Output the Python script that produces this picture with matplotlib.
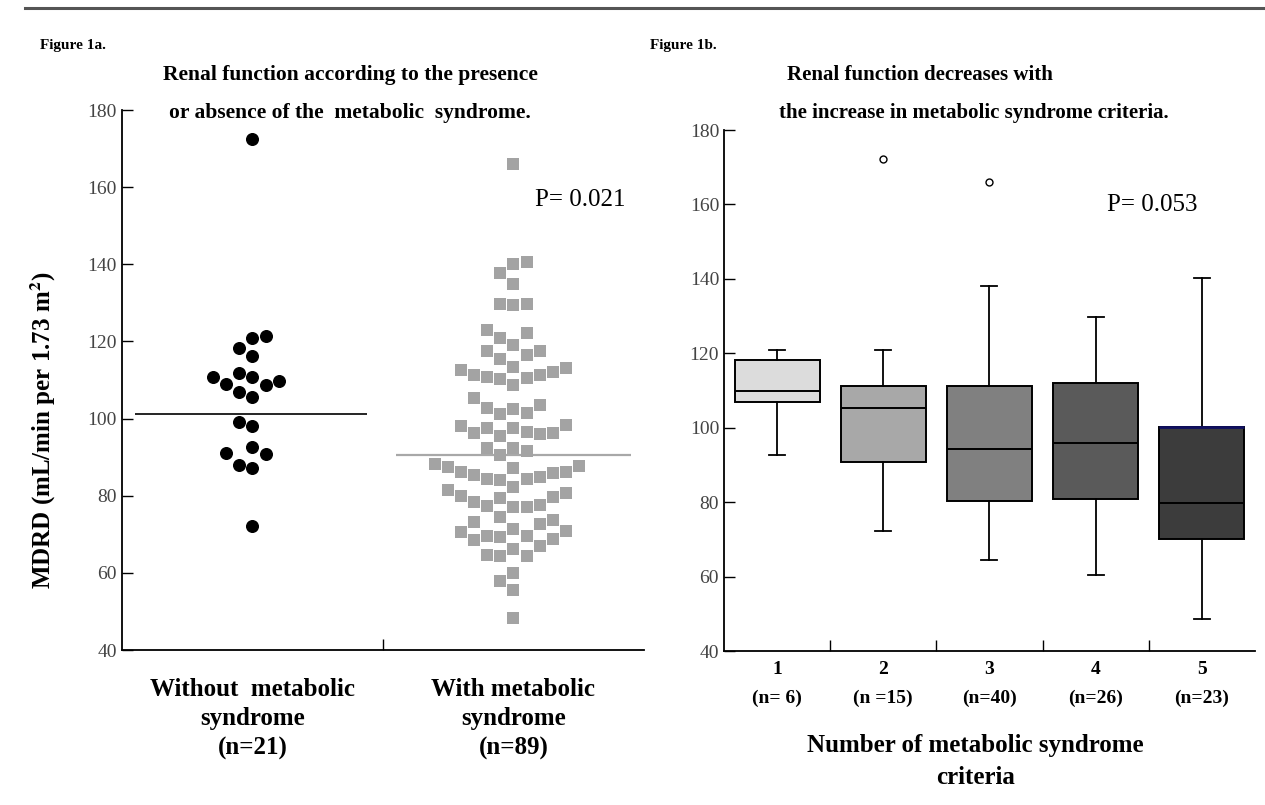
import numpy as np
import matplotlib
matplotlib.use("Agg")
import matplotlib.pyplot as plt
from matplotlib.lines import Line2D

plt.rcParams['font.family'] = ['Liberation Serif', 'DejaVu Serif']
plt.rcParams['mathtext.fontset'] = 'stix'

# Figure 1a data: MDRD values per group
without_ms = [172.5, 121.0, 121.3, 118.2, 116.2, 110.8, 110.8, 111.8, 109.0, 108.8,
              109.7, 106.9, 105.5, 98.1, 99.1, 92.7, 91.0, 90.8, 87.9, 87.3, 72.2]
with_ms = [166.0, 140.6, 140.0, 137.8, 134.8, 129.8, 129.5, 129.6,
           123.0, 122.3, 121.0, 119.0, 117.4, 117.5, 116.5, 115.4, 113.5, 112.6, 113.2,
           111.4, 112.0, 111.2, 110.7, 110.3, 110.6, 108.8,
           105.4, 103.4, 102.5, 102.8, 101.2, 101.5,
           98.4, 98.0, 97.5, 97.5, 96.5, 96.3, 96.0, 96.2, 95.6,
           92.5, 92.5, 91.7, 90.6,
           87.8, 87.2, 86.1, 85.5, 84.3, 84.1, 84.3, 84.9, 85.9, 86.1, 87.5, 88.2,
           82.3, 81.5, 80.6, 79.8, 79.3, 77.0, 80.0, 77.4, 78.4, 77.7, 77.0,
           74.4, 73.7, 72.7, 73.3, 71.4, 70.8, 68.8, 70.5, 68.5, 69.6, 67.0, 64.4,
           69.2, 69.6, 66.2, 64.3, 64.6, 60.1, 57.8, 55.5, 48.4]
group_lines = [101.2, 90.5]
group_labels = ['Without  metabolic\nsyndrome\n(n=21)', 'With metabolic\nsyndrome\n(n=89)']

# Figure 1b data: box plot statistics per number of criteria
crit_labels = ['1\n(n= 6)', '2\n(n =15)', '3\n(n=40)', '4\n(n=26)', '5\n(n=23)']
whis_hi = [121.0, 121.0, 138.1, 129.7, 140.3]
q3 = [118.1, 111.1, 111.1, 111.9, 100.2]
med = [109.8, 105.4, 94.3, 95.9, 79.9]
q1 = [106.8, 90.8, 80.2, 80.8, 70.0]
whis_lo = [92.7, 72.3, 64.5, 60.5, 48.6]
outliers = [[], [172.3], [166.1], [], []]
box_colors = ['#dcdcdc', '#a8a8a8', '#808080', '#5a5a5a', '#3c3c3c']


def swarm(values, gap, step):
    # simple dot-plot layout: lowest values take the centre column
    order = np.argsort(values, kind='stable')
    seq = [0] + [s for k in range(1, 40) for s in (-k, k)]
    used = {}
    offs = np.zeros(len(values))
    for i in order:
        v = values[i]
        for s in seq:
            if all(abs(v - u) >= gap for u in used.get(s, [])):
                used.setdefault(s, []).append(v)
                offs[i] = s * step
                break
    return offs


fig = plt.figure(figsize=(12.65, 8.05), dpi=100)
fig.add_artist(Line2D([0.02, 1.0], [0.99, 0.99], color='#555555', lw=2.2))

tick_col = '#444444'

# ---------------- Figure 1a ----------------
ax1 = fig.add_axes([0.0964, 0.1925, 0.4127, 0.6708])
x0 = 0.5 + swarm(np.array(without_ms), 4.7, 0.05)
x1 = 1.5 + swarm(np.array(with_ms), 4.6, 0.05)
ax1.scatter(x0, without_ms, s=70, marker='o', color='black', zorder=3)
ax1.scatter(x1, with_ms, s=82, marker='s', color='#a3a3a3', linewidths=0, zorder=3)
ax1.hlines(group_lines[0], 0.05, 0.94, color='black', lw=1.2)
ax1.hlines(group_lines[1], 1.05, 1.95, color='#a8a8a8', lw=1.6)

ax1.set_xlim(0, 2)
ax1.set_ylim(40, 180)
ax1.set_yticks(np.arange(40, 181, 20))
ax1.set_xticks([1])
ax1.set_xticklabels([])
ax1.set_xticks([0.5, 1.5], minor=True)
ax1.set_xticklabels(group_labels, minor=True, fontsize=18, fontweight='bold')
for lab in ax1.get_xticklabels(minor=True):
    lab.set_linespacing(1.35)
ax1.tick_params(axis='x', which='minor', length=0, pad=20)
ax1.tick_params(axis='both', which='major', direction='in', length=8, width=1, labelsize=14,
                labelcolor=tick_col)
ax1.spines[['top', 'right']].set_visible(False)
ax1.spines[['left', 'bottom']].set_linewidth(1.3)

fig.text(0.032, 0.944, 'Figure 1a.', fontsize=11, fontweight='bold', ha='left', va='center')
fig.text(0.277, 0.907, 'Renal function according to the presence', fontsize=15.5,
         fontweight='bold', ha='center', va='center')
fig.text(0.277, 0.860, 'or absence of the  metabolic  syndrome.', fontsize=15.5,
         fontweight='bold', ha='center', va='center')
fig.text(0.459, 0.752, 'P= 0.021', fontsize=18, ha='center', va='center')
fig.text(0.034, 0.466, 'MDRD (mL/min per 1.73 m$^\\mathbf{2}$)', fontsize=18, fontweight='bold',
         rotation=90, ha='center', va='center')

# ---------------- Figure 1b ----------------
ax2 = fig.add_axes([0.5723, 0.1913, 0.4197, 0.6472])
pos = np.arange(len(med)) + 0.5
stats = []
for i in range(len(med)):
    stats.append(dict(med=med[i], q1=q1[i], q3=q3[i], whislo=whis_lo[i],
                      whishi=whis_hi[i], fliers=outliers[i]))
bp = ax2.bxp(stats, positions=pos, widths=0.8, capwidths=0.15, patch_artist=True,
             boxprops=dict(edgecolor='black', linewidth=1.4),
             medianprops=dict(color='black', linewidth=1.4),
             whiskerprops=dict(color='black', linewidth=1.3),
             capprops=dict(color='black', linewidth=1.3),
             flierprops=dict(marker='o', markerfacecolor='white', markeredgecolor='black',
                             markersize=5, markeredgewidth=1))
for patch, c in zip(bp['boxes'], box_colors):
    patch.set_facecolor(c)
ax2.hlines(q3[-1], pos[-1] - 0.4, pos[-1] + 0.4, color='#101060', lw=2, zorder=4)

ax2.set_xlim(0, 5)
ax2.set_ylim(40, 180)
ax2.set_yticks(np.arange(40, 181, 20))
ax2.set_xticks([1, 2, 3, 4])
ax2.set_xticklabels([])
ax2.set_xticks(pos, minor=True)
ax2.set_xticklabels(crit_labels, minor=True, fontsize=14, fontweight='bold')
for lab in ax2.get_xticklabels(minor=True):
    lab.set_linespacing(1.9)
ax2.tick_params(axis='x', which='minor', length=0, pad=7)
ax2.tick_params(axis='both', which='major', direction='in', length=8, width=1, labelsize=14,
                labelcolor=tick_col)
ax2.spines[['top', 'right']].set_visible(False)
ax2.spines[['left', 'bottom']].set_linewidth(1.3)

fig.text(0.514, 0.944, 'Figure 1b.', fontsize=11, fontweight='bold', ha='left', va='center')
fig.text(0.727, 0.907, 'Renal function decreases with', fontsize=15,
         fontweight='bold', ha='center', va='center')
fig.text(0.770, 0.860, 'the increase in metabolic syndrome criteria.', fontsize=15,
         fontweight='bold', ha='center', va='center')
fig.text(0.911, 0.745, 'P= 0.053', fontsize=18, ha='center', va='center')
fig.text(0.771, 0.054, 'Number of metabolic syndrome\ncriteria', fontsize=18,
         fontweight='bold', ha='center', va='center', linespacing=1.45)

fig.savefig('out.png', dpi=100)
